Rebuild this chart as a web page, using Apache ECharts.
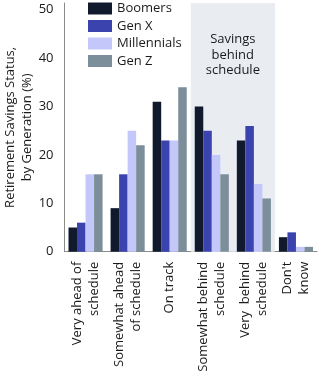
<!DOCTYPE html>
<html>
<head>
<meta charset="utf-8">
<script src="https://cdn.jsdelivr.net/npm/echarts@6/dist/echarts.min.js"></script>
<style>html,body{margin:0;padding:0;background:#fff}#c{width:321px;height:375px}</style>
</head>
<body>
<div id="c"></div>
<script>
const categories = ['Very ahead of\nschedule', 'Somewhat ahead\nof schedule', 'On track', 'Somewhat behind\nschedule', 'Very  behind\nschedule', "Don't\nknow"];
const boomers = [5, 9, 31, 30, 23, 3];
const genX = [6, 16, 23, 25, 26, 4];
const millennials = [16, 25, 23, 20, 14, 1];
const genZ = [16, 22, 34, 16, 11, 1];
const yTicks = [0, 10, 20, 30, 40, 50];
const seriesNames = ['Boomers', 'Gen X', 'Millennials', 'Gen Z'];
const colors = ['#101a2c', '#3b43ae', '#c4c7fa', '#7b8e9a'];
const font = 'Open Sans';

const chart = echarts.init(document.getElementById('c'), null, {renderer: 'canvas'});
const datas = [boomers, genX, millennials, genZ];
const series = datas.map((d, i) => ({
  name: seriesNames[i],
  type: 'bar',
  data: d,
  barGap: '0%',
  barCategoryGap: '19%',
  itemStyle: {color: colors[i]},
  z: 3
}));
series[0].markArea = {
  silent: true,
  z: 1,
  itemStyle: {color: '#e9edf2'},
  label: {
    show: true,
    position: 'insideTop',
    distance: 29,
    formatter: 'Savings\nbehind\nschedule',
    fontFamily: font,
    fontSize: 13,
    lineHeight: 15.5,
    color: '#1a1a1a',
    align: 'center'
  },
  data: [[{xAxis: 3}, {xAxis: 4}]]
};

chart.setOption({
  animation: false,
  textStyle: {fontFamily: font},
  color: colors,
  grid: {left: 64.5, right: 4, top: 3, bottom: 123.3, containLabel: false, outerBoundsMode: 'none'},
  legend: {
    orient: 'vertical',
    left: 88,
    top: 2,
    padding: 0,
    itemWidth: 24,
    itemHeight: 12,
    itemGap: 4.5,
    icon: 'rect',
    textStyle: {fontFamily: font, fontSize: 13, color: '#1a1a1a'},
    data: seriesNames
  },
  xAxis: {
    type: 'category',
    data: categories,
    axisLine: {lineStyle: {color: '#8a8a8a', width: 1}},
    axisTick: {show: false},
    axisLabel: {
      rotate: 90,
      interval: 0,
      margin: 10,
      fontFamily: font,
      fontSize: 13,
      lineHeight: 17,
      color: '#1a1a1a'
    }
  },
  yAxis: {
    type: 'value',
    min: 0,
    max: 51.4,
    name: 'Retirement Savings Status,\nby Generation (%)',
    nameLocation: 'middle',
    nameGap: 29,
    nameMoveOverlap: false,
    nameTextStyle: {fontFamily: font, fontSize: 13, lineHeight: 17, color: '#1a1a1a'},
    axisLine: {show: true, lineStyle: {color: '#8a8a8a', width: 1}},
    axisTick: {show: false},
    splitLine: {show: false},
    axisLabel: {
      customValues: yTicks,
      margin: 11,
      fontFamily: font,
      fontSize: 13,
      color: '#1a1a1a',
      padding: [0, 0, 7, 0]
    }
  },
  series: series
});
</script>
</body>
</html>
